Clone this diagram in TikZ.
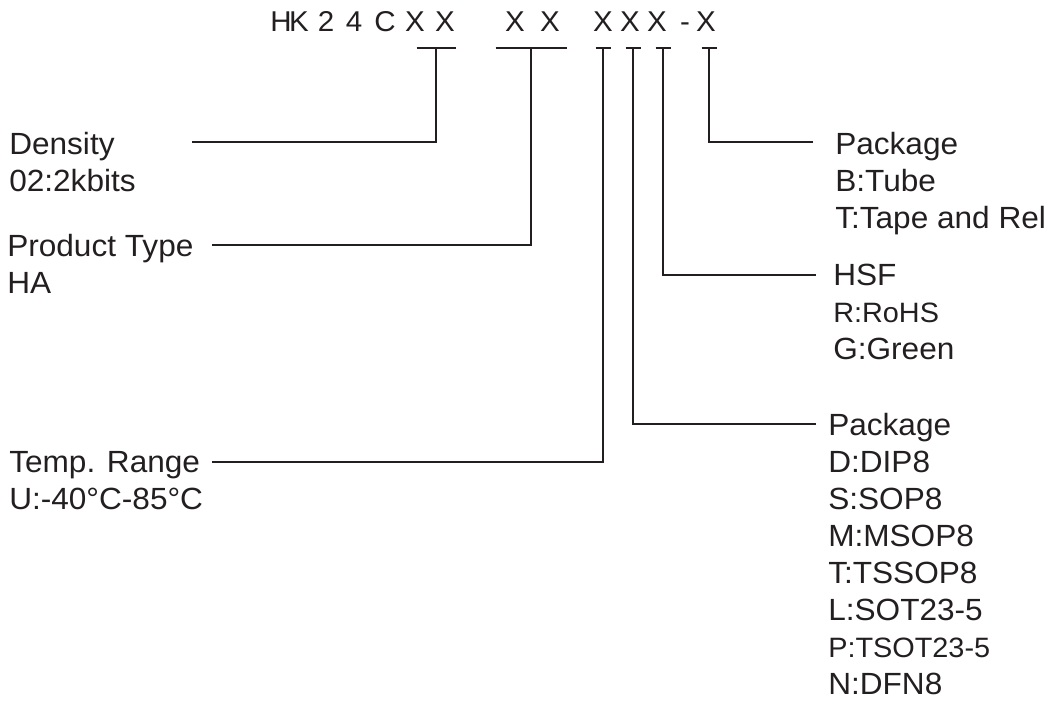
\documentclass[tikz,border=0pt]{standalone}
\usepackage{fontspec}
\setmainfont{Liberation Sans}[FakeStretch=1.03]
\definecolor{ink}{RGB}{35,31,32}
\newcommand{\smallline}[1]{{\fontsize{21}{27.75}\selectfont #1}}
\tikzset{
    code/.style={anchor=base, inner sep=0pt, font=\fontsize{21.5}{25}\selectfont, text=ink},
    field/.style={anchor=north west, inner sep=0pt, align=left, font=\fontsize{23}{27.75}\selectfont, text=ink},
    lead/.style={draw=ink, line width=2pt}
}
\begin{document}
\begin{tikzpicture}[x=0.75pt, y=-0.75pt]
      \useasboundingbox (0,0) rectangle (1057,712);

      % part number
      \foreach \c/\x/\n in {H/281/h, K/299/k, 2/326/two, 4/354/four, C/385/c,
          X/415/x1, X/445/x2, X/515/x3, X/550/x4, X/603/x5, X/630/x6, X/657/x7, -/685/dash, X/706/x8}
          \node[code] (pn-\n) at (\x,32) {\c};

      \coordinate (t-den) at (436,48);
      \coordinate (t-prod) at (531,48);
      \coordinate (t-temp) at (603,48);
      \coordinate (t-pkg) at (633,48);
      \coordinate (t-hsf) at (663,48);
      \coordinate (t-tape) at (709,48);

      % fields
      \node[field] (den) at (9,132) {Density\\02:2kbits};
      \node[field] (prod) at (7,234) {Product Type\\HA};
      \node[field] (temp) at (9,451) {Temp. Range\\U:-40°C-85°C};
      \node[field] (tape) at (835,132) {Package\\B:Tube\\T:Tape and Rel};
      \node[field] (hsf) at (833,264) {HSF\\\smallline{R:RoHS}\\G:Green};
      \node[field] (pkg) at (828,413) {Package\\D:DIP8\\S:SOP8\\M:MSOP8\\T:TSSOP8\\L:SOT23-5\\\smallline{P:TSOT23-5}\\N:DFN8};

      \coordinate (den-in) at (192,142);
      \coordinate (prod-in) at (212,245);
      \coordinate (temp-in) at (212,462);
      \coordinate (pkg-in) at (816,424);
      \coordinate (hsf-in) at (816,275);
      \coordinate (tape-in) at (813,142);

      % leaders
      \foreach \t/\w in {den/19.5, prod/35.5, temp/7.5, pkg/7.5, hsf/7.5, tape/7.5}
          \draw[lead] (t-\t) ++(-\w,0) -- ++(2*\w,0);
      \foreach \t in {den, prod, temp, pkg, hsf, tape}
          \draw[lead] (\t-in) -| (t-\t);
\end{tikzpicture}
\end{document}
